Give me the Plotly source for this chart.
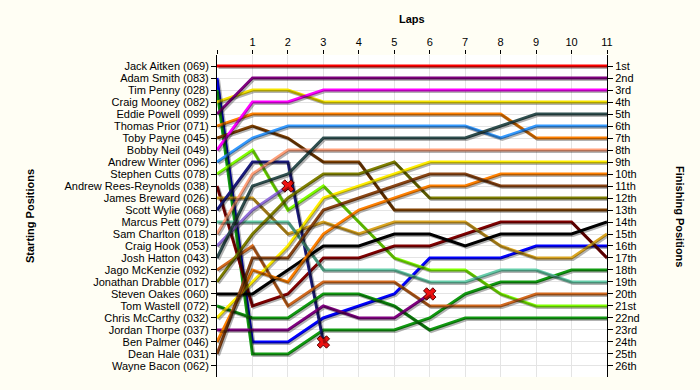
import plotly.graph_objects as go

laps = list(range(12))
lap_labels = ["", "1", "2", "3", "4", "5", "6", "7", "8", "9", "10", "11"]

drivers = ["Jack Aitken (069)", "Adam Smith (083)", "Tim Penny (028)", "Craig Mooney (082)",
           "Eddie Powell (099)", "Thomas Prior (071)", "Toby Payne (045)", "Bobby Neil (049)",
           "Andrew Winter (096)", "Stephen Cutts (078)", "Andrew Rees-Reynolds (038)",
           "James Breward (026)", "Scott Wylie (068)", "Marcus Pett (079)", "Sam Charlton (018)",
           "Craig Hook (053)", "Josh Hatton (043)", "Jago McKenzie (092)", "Jonathan Drabble (017)",
           "Steven Oakes (060)", "Tom Wastell (072)", "Chris McCarthy (032)", "Jordan Thorpe (037)",
           "Ben Palmer (046)", "Dean Hale (031)", "Wayne Bacon (062)"]

finish_labels = ["1st", "2nd", "3rd", "4th", "5th", "6th", "7th", "8th", "9th", "10th", "11th",
                 "12th", "13th", "14th", "15th", "16th", "17th", "18th", "19th", "20th", "21st",
                 "22nd", "23rd", "24th", "25th", "26th"]

# position of each driver at laps 0..11 (None = not running)
jack_aitken = [1, 1, 1, 1, 1, 1, 1, 1, 1, 1, 1, 1]
adam_smith = [2, 24, 24, 22, 21, 20, 17, 17, 17, 16, 16, 16]
tim_penny = [3, 25, 25, 23, 23, 23, 22, 20, 19, 19, 18, 18]
craig_mooney = [4, 3, 3, 4, 4, 4, 4, 4, 4, 4, 4, 4]
eddie_powell = [5, 2, 2, 2, 2, 2, 2, 2, 2, 2, 2, 2]
thomas_prior = [6, 5, 5, 5, 5, 5, 5, 5, 5, 7, 7, 7]
toby_payne = [7, 6, 7, 9, 9, 13, 13, 13, 13, 13, 13, 13]
bobby_neil = [8, 4, 4, 3, 3, 3, 3, 3, 3, 3, 3, 3]
andrew_winter = [9, 7, 6, 6, 6, 6, 6, 6, 7, 6, 6, 6]
stephen_cutts = [10, 8, 13, 11, 14, 17, 18, 18, 20, 21, 21, 21]
andrew_rees_reynolds = [11, 21, 20, 17, 17, 16, 16, 15, 14, 14, 14, 17]
james_breward = [12, 12, 15, 14, 15, 14, 14, 14, 16, 17, 17, 15]
scott_wylie = [13, 9, 9, 24, None, None, None, None, None, None, None, None]
marcus_pett = [14, 14, 14, 18, 18, 18, 19, 19, 18, 18, 19, 19]
sam_charlton = [15, 10, 8, 8, 8, 8, 8, 8, 8, 8, 8, 8]
craig_hook = [16, 13, 11, None, None, None, None, None, None, None, None, None]
josh_hatton = [17, 11, 10, 7, 7, 7, 7, 7, 6, 5, 5, 5]
jago_mckenzie = [18, 16, 21, 19, 19, 19, 21, 21, 21, 20, 20, 20]
jonathan_drabble = [19, 15, 12, 10, 10, 9, 12, 12, 12, 12, 12, 12]
steven_oakes = [20, 20, 18, 16, 16, 15, 15, 16, 15, 15, 15, 14]
tom_wastell = [21, 22, 22, 20, 20, 21, 23, 22, 22, 22, 22, 22]
chris_mccarthy = [22, 19, 16, 12, 11, 10, 9, 9, 9, 9, 9, 9]
jordan_thorpe = [23, 23, 23, 21, 22, 22, 20, None, None, None, None, None]
ben_palmer = [24, 18, 19, 15, 13, 12, 11, 11, 10, 10, 10, 10]
dean_hale = [25, 17, 17, 13, 12, 11, 10, 10, 11, 11, 11, 11]
wayne_bacon = [None] * 12

positions = [jack_aitken, adam_smith, tim_penny, craig_mooney, eddie_powell, thomas_prior,
             toby_payne, bobby_neil, andrew_winter, stephen_cutts, andrew_rees_reynolds,
             james_breward, scott_wylie, marcus_pett, sam_charlton, craig_hook, josh_hatton,
             jago_mckenzie, jonathan_drabble, steven_oakes, tom_wastell, chris_mccarthy,
             jordan_thorpe, ben_palmer, dean_hale, wayne_bacon]

colors = ["#ff0000", "#0000ff", "#109a10", "#f5e400", "#800080", "#ff8000", "#804000", "#ff00ff",
          "#3399ff", "#80ff00", "#800000", "#daa520", "#1c1c80", "#66cdaa", "#ffa07a", "#9370db",
          "#2f4f4f", "#d2691e", "#808000", "#000000", "#109a10", "#ffee00", "#800080", "#ff8000",
          "#8b4513", "#808080"]

retired = ["Scott Wylie (068)", "Craig Hook (053)", "Jordan Thorpe (037)"]

fig = go.Figure()

# shadow offset (in data units, ~1.5 px)
dx = 1.5 / (390 / 11)
dy = 1.5 / (322 / 26.84)

for name, pos, col in zip(drivers, positions, colors):
    if all(p is None for p in pos):
        continue
    fig.add_trace(go.Scatter(x=laps, y=pos, mode="lines", xaxis="x2", yaxis="y3",
                             line=dict(color="rgba(0,0,0,0.3)", width=3),
                             hoverinfo="skip", showlegend=False))

for name, pos, col in zip(drivers, positions, colors):
    if all(p is None for p in pos):
        continue
    fig.add_trace(go.Scatter(x=laps, y=pos, mode="lines", name=name,
                             line=dict(color=col, width=3), showlegend=False))

for name, pos in zip(drivers, positions):
    if name in retired:
        last = max(i for i, p in enumerate(pos) if p is not None)
        fig.add_trace(go.Scatter(x=[laps[last]], y=[pos[last]], mode="markers",
                                 marker=dict(symbol="x", size=11, color="#ee1111",
                                             line=dict(color="#550000", width=1)),
                                 showlegend=False, hoverinfo="skip"))

# invisible trace to activate right axis
fig.add_trace(go.Scatter(x=[None], y=[None], yaxis="y2", showlegend=False))

yr = [26.92, 0.08]
font = dict(family="Liberation Sans, Arial, sans-serif", size=11, color="#000")

fig.update_layout(
    width=700, height=390,
    margin=dict(l=217, r=93, t=55, b=13, autoexpand=False),
    paper_bgcolor="#fffef4", plot_bgcolor="#ffffff",
    font=font,
    xaxis=dict(range=[0, 11], side="top", tickvals=laps, ticktext=lap_labels,
               showgrid=True, gridcolor="#e4e4e4", gridwidth=1, zeroline=False,
               showline=False, ticks="outside", ticklen=4, tickcolor="#000",
               tickfont=font),
    xaxis2=dict(range=[-dx, 11 - dx], overlaying="x", visible=False),
    yaxis=dict(range=yr, tickvals=list(range(1, 27)), ticktext=drivers,
               showgrid=True, gridcolor="#e4e4e4", gridwidth=1, zeroline=False,
               showline=True, linecolor="#000", linewidth=1,
               ticks="outside", ticklen=5, tickcolor="#000", tickfont=font),
    yaxis2=dict(range=yr, overlaying="y", side="right", tickvals=list(range(1, 27)),
                ticktext=finish_labels, showgrid=False, zeroline=False,
                showline=True, linecolor="#000", linewidth=1,
                ticks="outside", ticklen=5, tickcolor="#000", tickfont=font),
    yaxis3=dict(range=[yr[0] - dy, yr[1] - dy], overlaying="y", visible=False),
    annotations=[
        dict(text="<b>Laps</b>", x=0.5, y=1, xref="paper", yref="paper", yshift=44,
             showarrow=False, font=font),
        dict(text="<b>Starting Positions</b>", x=-(217 - 22) / 390, y=0.5, xref="paper",
             yref="paper", showarrow=False, textangle=-90, font=font),
        dict(text="<b>Finishing Positions</b>", x=1 + (688 - 607) / 390, y=0.5, xref="paper",
             yref="paper", showarrow=False, textangle=90, font=font),
    ],
)

fig.write_html("out.html", config={"displayModeBar": False},
               post_script="document.body.style.margin='0';document.body.style.background='#fffef4';window.dispatchEvent(new Event('resize'));")
